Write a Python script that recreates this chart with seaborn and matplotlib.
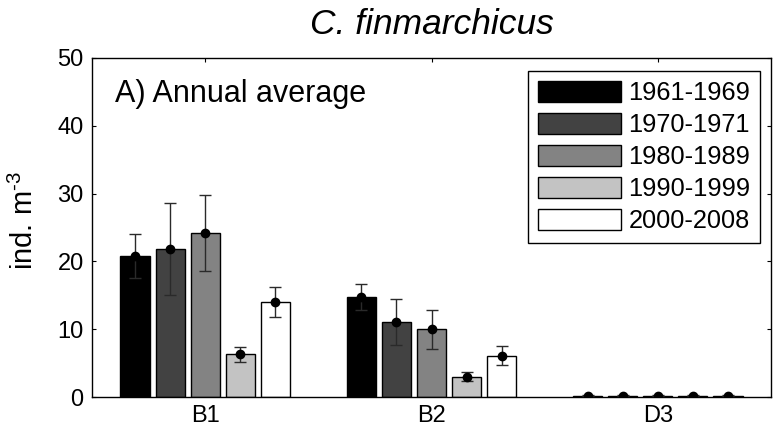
import matplotlib
matplotlib.use("Agg")
import matplotlib.pyplot as plt
from matplotlib.patches import Patch
import seaborn as sns
import pandas as pd

# ---- data ----
stations = ["B1", "B2", "D3"]
periods = ["1961-1969", "1970-1971", "1980-1989", "1990-1999", "2000-2008"]
mean_1961 = [20.8, 14.7, 0.2]
mean_1970 = [21.8, 11.0, 0.2]
mean_1980 = [24.2, 10.0, 0.2]
mean_1990 = [6.3, 3.0, 0.2]
mean_2000 = [14.0, 6.1, 0.2]
err_1961 = [3.3, 1.9, 0.05]
err_1970 = [6.8, 3.4, 0.05]
err_1980 = [5.6, 2.9, 0.05]
err_1990 = [1.1, 0.65, 0.05]
err_2000 = [2.2, 1.35, 0.05]
colors = ["#000000", "#424242", "#838383", "#c3c3c3", "#ffffff"]
yticks = [0, 10, 20, 30, 40, 50]

means = [mean_1961, mean_1970, mean_1980, mean_1990, mean_2000]
errs = [err_1961, err_1970, err_1980, err_1990, err_2000]

rows = []
for p, m, e in zip(periods, means, errs):
    for s, v, er in zip(stations, m, e):
        rows.append({"station": s, "period": p, "value": v, "err": er})
df = pd.DataFrame(rows)

sns.set_style("ticks")
plt.rcParams["font.family"] = ["Liberation Sans", "DejaVu Sans"]
plt.rcParams["mathtext.fontset"] = "custom"
plt.rcParams["mathtext.rm"] = "Liberation Sans"
plt.rcParams["mathtext.it"] = "Liberation Sans:italic"
for k in ["text.color", "axes.labelcolor", "xtick.color", "ytick.color",
          "axes.edgecolor"]:
    plt.rcParams[k] = "black"

fig = plt.figure(figsize=(7.76, 4.30), dpi=100)
ax = fig.add_axes([92 / 776, (430 - 397) / 430, (771 - 92) / 776, (397 - 58) / 430])

sns.barplot(data=df, x="station", y="value", hue="period", hue_order=periods,
            order=stations, palette=colors, saturation=1, width=0.775, gap=0.17,
            edgecolor="black", linewidth=1, errorbar=None, legend=False, ax=ax)

for cont, p in zip(ax.containers, periods):
    sub = df[df["period"] == p].set_index("station").loc[stations]
    xs = [b.get_x() + b.get_width() / 2 for b in cont]
    ax.errorbar(xs, sub["value"].values, yerr=sub["err"].values, fmt="o",
                color="black", ecolor="#2a2a2a", markersize=6, capsize=4,
                elinewidth=1, capthick=1, zorder=4)

ax.set_xlim(-0.5, 2.5)
ax.set_ylim(0, 50)
ax.set_yticks(yticks)
ax.set_yticklabels([str(t) for t in yticks])
ax.set_xlabel("")
ax.set_ylabel(r"ind. m$^{\text{-3}}$", fontsize=21)
ax.yaxis.set_label_coords(-0.078, 0.52)

for sp in ax.spines.values():
    sp.set_visible(True)
    sp.set_color("black")
    sp.set_linewidth(1)

ax.tick_params(direction="in", length=3, width=0.8, top=True, right=True,
               labelsize=17, color="black", labelcolor="black")
ax.tick_params(axis="y", pad=6)
ax.tick_params(axis="x", pad=6)

ax.set_title("C. finmarchicus", fontsize=25.5, style="italic", pad=17)
ax.text(0.034, 0.870, "A) Annual average", transform=ax.transAxes,
        fontsize=22, ha="left", va="baseline")

handles = [Patch(facecolor=c, edgecolor="black", linewidth=1) for c in colors]
leg = ax.legend(handles, periods, loc="upper right", bbox_to_anchor=(0.984, 0.962),
                borderaxespad=0, fontsize=18.3, handlelength=3.25, handleheight=0.92,
                labelspacing=0.3, handletextpad=0.3, borderpad=0.38,
                frameon=True, fancybox=False, edgecolor="black", framealpha=1)
leg.get_frame().set_linewidth(1)

fig.savefig("out.png", dpi=100)
